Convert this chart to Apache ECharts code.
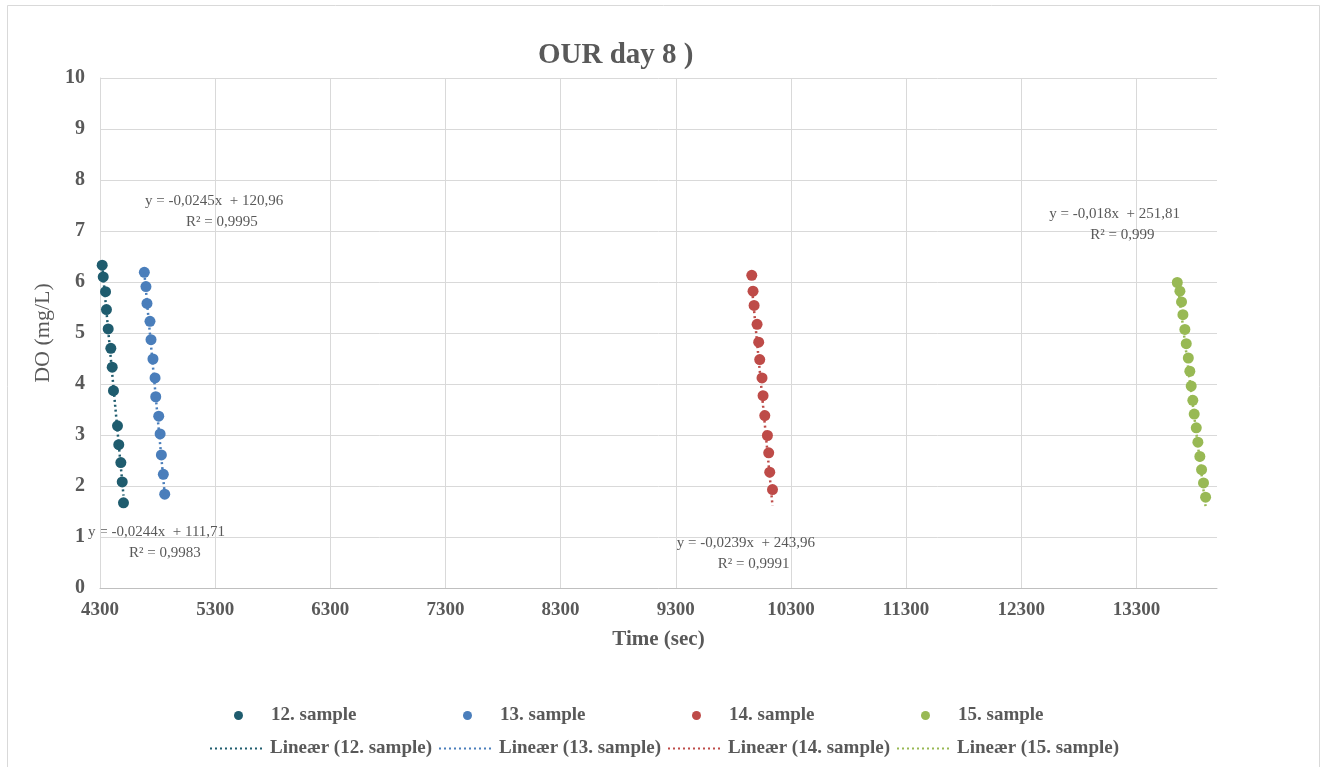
<!DOCTYPE html>
<html>
<head>
<meta charset="utf-8">
<title>OUR day 8</title>
<script src="https://cdn.jsdelivr.net/npm/echarts@6/dist/echarts.min.js"></script>
<style>
  html, body { margin: 0; padding: 0; background: #ffffff; }
  #chart { width: 1324px; height: 767px; }
</style>
</head>
<body>
<div id="chart"></div>
<script>
// Dissolved oxygen decay measurements (time in seconds, DO in mg/L)
const seriesNames = ['12. sample', '13. sample', '14. sample', '15. sample'];

const time12 = [4319, 4328, 4348, 4356, 4371, 4394, 4406, 4417, 4452, 4463, 4481, 4493, 4504];
const do12   = [6.33, 6.10, 5.81, 5.46, 5.08, 4.70, 4.33, 3.87, 3.18, 2.81, 2.46, 2.08, 1.67];

const time13 = [4685, 4699, 4708, 4734, 4743, 4760, 4778, 4784, 4810, 4822, 4833, 4850, 4862];
const do13   = [6.19, 5.91, 5.58, 5.23, 4.87, 4.49, 4.12, 3.75, 3.37, 3.02, 2.61, 2.23, 1.84];

const time14 = [9960, 9971, 9980, 10006, 10020, 10029, 10049, 10058, 10073, 10096, 10107, 10116, 10140];
const do14   = [6.13, 5.82, 5.54, 5.17, 4.82, 4.48, 4.12, 3.77, 3.38, 2.99, 2.65, 2.27, 1.93];

const time15 = [13655, 13678, 13692, 13704, 13721, 13733, 13751, 13764, 13776, 13790, 13802, 13820, 13834, 13851, 13866, 13883, 13901];
const do15   = [5.99, 5.82, 5.61, 5.36, 5.07, 4.79, 4.51, 4.25, 3.96, 3.68, 3.41, 3.14, 2.86, 2.58, 2.32, 2.06, 1.78];

// Linear trendline coefficients (y = slope * x + intercept) and R²
const slopes     = [-0.0244, -0.0245, -0.0239, -0.018];
const intercepts = [111.71, 120.96, 243.96, 251.81];
const rSquared   = [0.9983, 0.9995, 0.9991, 0.999];

// Where each equation box sits, in data coordinates (left edge, first line)
const eqAnchors = [[4196, 1.10], [4691, 7.58], [9309, 0.88], [12543, 7.33]];

const colors = ['#1f5c6e', '#4a7ebb', '#be4b48', '#98b954'];
const FONT = '"Liberation Serif", "Times New Roman", serif';
const TEXT = '#595959';

const times = [time12, time13, time14, time15];
const values = [do12, do13, do14, do15];

const scatterSeries = seriesNames.map((name, i) => ({
  name: name,
  type: 'scatter',
  data: times[i].map((t, k) => [t, values[i][k]]),
  symbol: 'circle',
  symbolSize: 11,
  itemStyle: { color: colors[i], opacity: 1 },
  z: 2
}));

const trendSeries = seriesNames.map((name, i) => {
  const x0 = Math.min.apply(null, times[i]);
  const x1 = Math.max.apply(null, times[i]);
  return {
    name: 'Lineær (' + name + ')',
    type: 'line',
    data: [[x0, slopes[i] * x0 + intercepts[i]], [x1, slopes[i] * x1 + intercepts[i]]],
    symbol: 'none',
    lineStyle: { color: colors[i], width: 2.5, type: [2, 3] },
    itemStyle: { color: colors[i] },
    silent: true,
    z: 3
  };
});

// One legend box per entry so each column lines up
const markerCols = [229, 458, 687, 916];
const lineCols = [204, 433, 662, 891];
const legendStyle = { fontFamily: FONT, fontSize: 19, fontWeight: 'bold', color: TEXT };
const legends = [];
seriesNames.forEach((name, i) => {
  legends.push({
    data: [name], left: markerCols[i], top: 701,
    icon: 'circle', itemWidth: 55, itemHeight: 9, itemGap: 0,
    textStyle: legendStyle, selectedMode: false
  });
  legends.push({
    data: ['Lineær (' + name + ')'], left: lineCols[i], top: 734,
    itemWidth: 55, itemHeight: 8, itemGap: 0,
    itemStyle: { opacity: 0 },
    textStyle: legendStyle, selectedMode: false
  });
});

const chart = echarts.init(document.getElementById('chart'), null, { renderer: 'canvas' });

chart.setOption({
  animation: false,
  backgroundColor: '#ffffff',
  title: {
    text: 'OUR day 8 )',
    left: 533, top: 36,
    textStyle: { fontFamily: FONT, fontSize: 29, fontWeight: 'bold', color: TEXT }
  },
  legend: legends,
  grid: { left: 100, right: 107, top: 78, bottom: 179, containLabel: false },
  xAxis: {
    type: 'value',
    min: 4300, max: 14000, interval: 1000,
    name: 'Time (sec)', nameLocation: 'middle', nameGap: 41,
    nameTextStyle: { fontFamily: FONT, fontSize: 21, fontWeight: 'bold', color: TEXT },
    axisLine: { show: true, lineStyle: { color: '#bfbfbf', width: 1 } },
    axisTick: { show: false },
    axisLabel: {
      showMaxLabel: false, margin: 13,
      formatter: v => String(v),
      fontFamily: FONT, fontSize: 19, fontWeight: 'bold', color: TEXT
    },
    splitLine: { show: true, showMaxLine: false, lineStyle: { color: '#d9d9d9', width: 1 } }
  },
  yAxis: {
    type: 'value',
    min: 0, max: 10, interval: 1,
    name: 'DO (mg/L)', nameLocation: 'middle', nameGap: 42,
    nameTextStyle: { fontFamily: FONT, fontSize: 22, color: TEXT },
    axisLine: { show: true, lineStyle: { color: '#d9d9d9', width: 1 } },
    axisTick: { show: false },
    axisLabel: { margin: 15, fontFamily: FONT, fontSize: 20, fontWeight: 'bold', color: TEXT },
    splitLine: { show: true, lineStyle: { color: '#d9d9d9', width: 1 } }
  },
  series: trendSeries.concat(scatterSeries)
});

// Trendline equation boxes, placed through the chart's coordinate system
const fmt = v => String(v).replace('.', ',');
const graphics = [{
  type: 'rect', silent: true,
  shape: { x: 7.5, y: 5.5, width: 1312, height: 800 },
  style: { fill: 'none', stroke: '#d9d9d9', lineWidth: 1 }
}];
eqAnchors.forEach((a, i) => {
  const p = chart.convertToPixel({ gridIndex: 0 }, a);
  graphics.push({
    type: 'text', silent: true, x: p[0], y: p[1],
    style: {
      text: 'y = ' + fmt(slopes[i]) + 'x  + ' + fmt(intercepts[i]),
      font: '15px ' + FONT, fill: TEXT, textAlign: 'left', textVerticalAlign: 'middle'
    }
  });
  graphics.push({
    type: 'text', silent: true, x: p[0] + 41, y: p[1] + 21,
    style: {
      text: 'R² = ' + fmt(rSquared[i]),
      font: '15px ' + FONT, fill: TEXT, textAlign: 'left', textVerticalAlign: 'middle'
    }
  });
});
chart.setOption({ graphic: graphics });
</script>
</body>
</html>
